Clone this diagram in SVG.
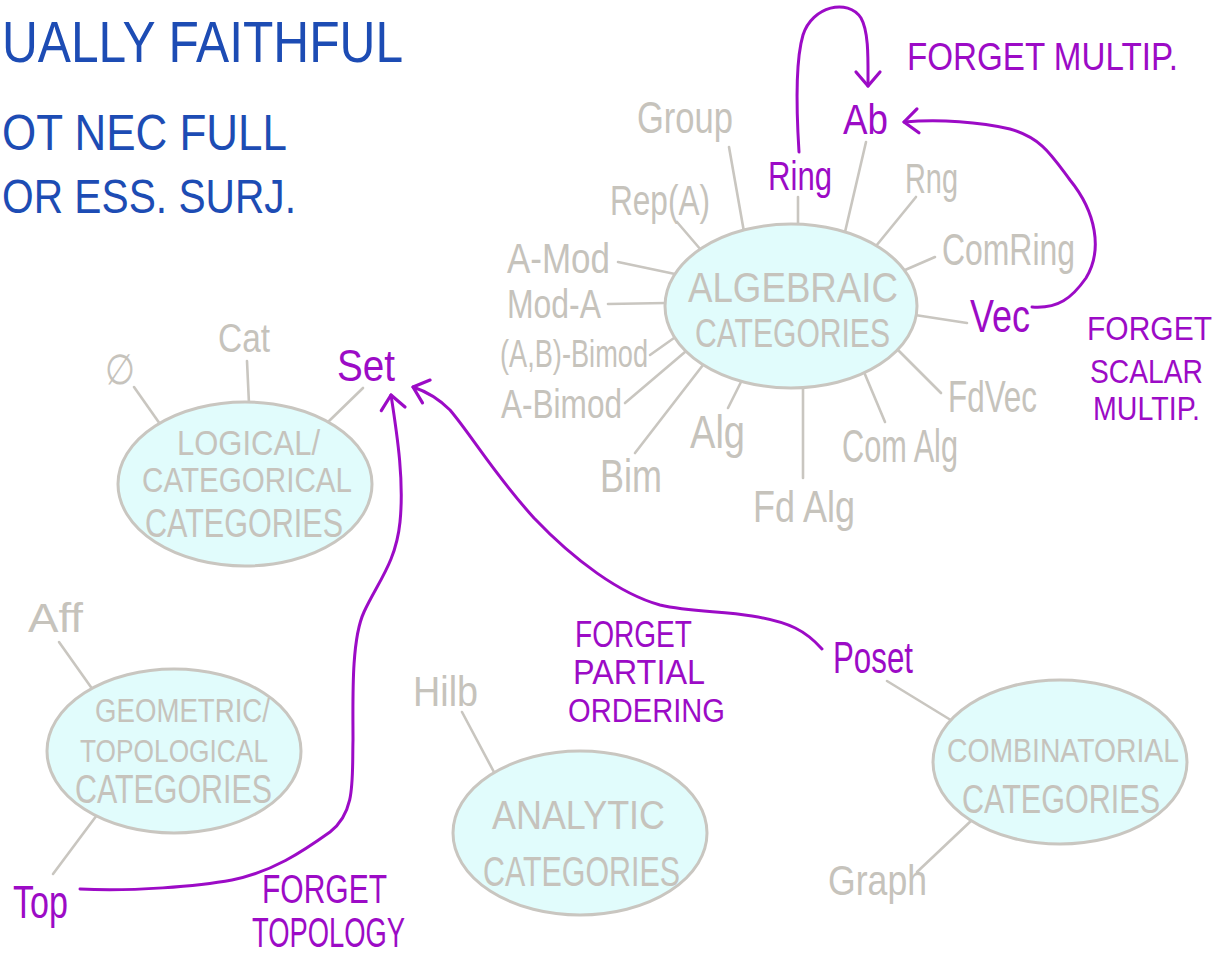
<svg xmlns="http://www.w3.org/2000/svg" width="1230" height="961" viewBox="0 0 1230 961">
  <style>
    text { font-family: "Liberation Sans Narrow", "Liberation Sans", "DejaVu Sans", sans-serif; }
    .note { fill: #1d4cb4; }
    .fun { fill: #9c0bc6; }
    .obj { fill: #c6c3bc; }
    .cat ellipse { fill: #e1fcfc; stroke: #c9c6c0; stroke-width: 3; }
    .cat text { fill: #c6c3bc; }
    .spoke { stroke: #c9c6c0; stroke-width: 2.6; stroke-linecap: round; fill: none; }
    .forget { stroke: #9c0bc6; stroke-width: 3; fill: none; stroke-linecap: round; marker-end: url(#chev); }
  </style>
  <defs>
    <marker id="chev" markerUnits="userSpaceOnUse" viewBox="0 0 40 40" markerWidth="40" markerHeight="40" refX="20" refY="20" orient="auto" overflow="visible">
      <path d="M6,8 L20,20 L6,32" fill="none" stroke="#9c0bc6" stroke-width="3.2" stroke-linecap="round" stroke-linejoin="round"/>
    </marker>
  </defs>

  <rect width="1230" height="961" fill="#ffffff"/>

  <!-- handwritten notes, top left -->
  <g id="notes" class="note">
    <text x="2" y="62" font-size="58" textLength="401" lengthAdjust="spacingAndGlyphs">UALLY FAITHFUL</text>
    <text x="2" y="150" font-size="50" textLength="285" lengthAdjust="spacingAndGlyphs">OT NEC FULL</text>
    <text x="2" y="213" font-size="48" textLength="294" lengthAdjust="spacingAndGlyphs">OR ESS. SURJ.</text>
  </g>

  <!-- spokes and forgetful functors -->
  <g id="connectors">
    <!-- algebraic -->
    <line class="spoke" x1="729" y1="147" x2="744" y2="232"/>
    <line class="spoke" x1="677" y1="222" x2="701" y2="250"/>
    <line class="spoke" x1="618" y1="262" x2="675" y2="274"/>
    <line class="spoke" x1="608" y1="304" x2="666" y2="303"/>
    <line class="spoke" x1="650" y1="355" x2="674" y2="338"/>
    <line class="spoke" x1="625" y1="403" x2="685" y2="352"/>
    <line class="spoke" x1="635" y1="453" x2="703" y2="365"/>
    <line class="spoke" x1="728" y1="408" x2="742" y2="380"/>
    <line class="spoke" x1="803" y1="478" x2="803" y2="385"/>
    <line class="spoke" x1="885" y1="422" x2="864" y2="372"/>
    <line class="spoke" x1="941" y1="393" x2="898" y2="350"/>
    <line class="spoke" x1="967" y1="323" x2="915" y2="315"/>
    <line class="spoke" x1="935" y1="257" x2="905" y2="270"/>
    <line class="spoke" x1="916" y1="197" x2="876" y2="246"/>
    <line class="spoke" x1="866" y1="142" x2="845" y2="232"/>
    <line class="spoke" x1="798" y1="197" x2="798" y2="228"/>
    <!-- logical / categorical -->
    <line class="spoke" x1="134" y1="387" x2="160" y2="424"/>
    <line class="spoke" x1="247" y1="361" x2="249" y2="404"/>
    <line class="spoke" x1="363" y1="388" x2="327" y2="423"/>
    <!-- geometric / topological -->
    <line class="spoke" x1="59" y1="642" x2="93" y2="690"/>
    <line class="spoke" x1="53" y1="874" x2="97" y2="815"/>
    <!-- analytic -->
    <line class="spoke" x1="462" y1="712" x2="495" y2="774"/>
    <!-- combinatorial -->
    <line class="spoke" x1="887" y1="681" x2="954" y2="722"/>
    <line class="spoke" x1="917" y1="872" x2="972" y2="820"/>

    <!-- forget multiplication: Ring to Ab -->
    <path class="forget" d="M799,152 C797,120 795,62 803,35 C812,6 848,-2 861,18 C869,32 868,60 868,86"/>
    <!-- forget scalar multiplication: Vec to Ab -->
    <path class="forget" d="M1032,307 C1058,309 1072,298 1086,278 C1103,250 1096,212 1070,180 C1052,156 1042,138 1010,129 C980,122 940,119 904,122"/>
    <!-- forget topology: Top to Set -->
    <path class="forget" d="M80,889 C130,892 200,886 232,880 C272,872 302,852 330,832 C356,812 352,780 353,740 C353,700 351,640 364,612 C378,582 396,562 400,522 C404,482 398,440 391,395"/>
    <!-- forget partial ordering: Poset to Set -->
    <path class="forget" d="M822,649 C806,631 790,622 752,616 C722,611 690,612 660,605 C620,594 574,560 534,518 C494,474 472,436 450,410 C440,400 428,392 413,387"/>
  </g>

  <!-- category clusters -->
  <g id="algebraic" class="cat">
    <ellipse cx="791" cy="306" rx="126" ry="82"/>
    <text x="688" y="302" font-size="42" textLength="210" lengthAdjust="spacingAndGlyphs">ALGEBRAIC</text>
    <text x="695" y="347" font-size="40" textLength="195" lengthAdjust="spacingAndGlyphs">CATEGORIES</text>
  </g>
  <g id="logical" class="cat">
    <ellipse cx="245" cy="484" rx="127" ry="82"/>
    <text x="177" y="455" font-size="35" textLength="143" lengthAdjust="spacingAndGlyphs">LOGICAL/</text>
    <text x="142" y="492" font-size="35" textLength="210" lengthAdjust="spacingAndGlyphs">CATEGORICAL</text>
    <text x="145" y="537" font-size="40" textLength="198" lengthAdjust="spacingAndGlyphs">CATEGORIES</text>
  </g>
  <g id="geometric" class="cat">
    <ellipse cx="174" cy="751" rx="127" ry="82"/>
    <text x="95" y="722" font-size="33" textLength="175" lengthAdjust="spacingAndGlyphs">GEOMETRIC/</text>
    <text x="80" y="762" font-size="32" textLength="188" lengthAdjust="spacingAndGlyphs">TOPOLOGICAL</text>
    <text x="75" y="803" font-size="40" textLength="197" lengthAdjust="spacingAndGlyphs">CATEGORIES</text>
  </g>
  <g id="analytic" class="cat">
    <ellipse cx="580" cy="833" rx="127" ry="82"/>
    <text x="492" y="829" font-size="40" textLength="173" lengthAdjust="spacingAndGlyphs">ANALYTIC</text>
    <text x="483" y="886" font-size="42" textLength="197" lengthAdjust="spacingAndGlyphs">CATEGORIES</text>
  </g>
  <g id="combinatorial" class="cat">
    <ellipse cx="1060" cy="762" rx="127" ry="82"/>
    <text x="947" y="762" font-size="34" textLength="232" lengthAdjust="spacingAndGlyphs">COMBINATORIAL</text>
    <text x="962" y="813" font-size="40" textLength="198" lengthAdjust="spacingAndGlyphs">CATEGORIES</text>
  </g>

  <!-- grey objects -->
  <g id="group" class="obj"><text x="637" y="133" font-size="44" textLength="96" lengthAdjust="spacingAndGlyphs">Group</text></g>
  <g id="rep-a" class="obj"><text x="610" y="215" font-size="42" textLength="100" lengthAdjust="spacingAndGlyphs">Rep(A)</text></g>
  <g id="a-mod" class="obj"><text x="507" y="273" font-size="42" textLength="103" lengthAdjust="spacingAndGlyphs">A-Mod</text></g>
  <g id="mod-a" class="obj"><text x="507" y="318" font-size="40" textLength="94" lengthAdjust="spacingAndGlyphs">Mod-A</text></g>
  <g id="ab-bimod" class="obj"><text x="500" y="367" font-size="38" textLength="148" lengthAdjust="spacingAndGlyphs">(A,B)-Bimod</text></g>
  <g id="a-bimod" class="obj"><text x="501" y="418" font-size="40" textLength="121" lengthAdjust="spacingAndGlyphs">A-Bimod</text></g>
  <g id="bim" class="obj"><text x="600" y="492" font-size="46" textLength="62" lengthAdjust="spacingAndGlyphs">Bim</text></g>
  <g id="alg" class="obj"><text x="690" y="448" font-size="46" textLength="55" lengthAdjust="spacingAndGlyphs">Alg</text></g>
  <g id="fd-alg" class="obj"><text x="753" y="522" font-size="44" textLength="102" lengthAdjust="spacingAndGlyphs">Fd Alg</text></g>
  <g id="com-alg" class="obj"><text x="842" y="462" font-size="46" textLength="116" lengthAdjust="spacingAndGlyphs">Com Alg</text></g>
  <g id="fdvec" class="obj"><text x="948" y="412" font-size="44" textLength="89" lengthAdjust="spacingAndGlyphs">FdVec</text></g>
  <g id="comring" class="obj"><text x="942" y="265" font-size="44" textLength="133" lengthAdjust="spacingAndGlyphs">ComRing</text></g>
  <g id="rng" class="obj"><text x="905" y="193" font-size="42" textLength="53" lengthAdjust="spacingAndGlyphs">Rng</text></g>
  <g id="cat" class="obj"><text x="218" y="352" font-size="40" textLength="52" lengthAdjust="spacingAndGlyphs">Cat</text></g>
  <g id="empty" class="obj"><text x="105" y="384" font-size="42" textLength="30" lengthAdjust="spacingAndGlyphs">∅</text></g>
  <g id="aff" class="obj"><text x="28" y="632" font-size="40" textLength="55" lengthAdjust="spacingAndGlyphs">Aff</text></g>
  <g id="hilb" class="obj"><text x="413" y="706" font-size="42" textLength="65" lengthAdjust="spacingAndGlyphs">Hilb</text></g>
  <g id="graph" class="obj"><text x="828" y="895" font-size="42" textLength="99" lengthAdjust="spacingAndGlyphs">Graph</text></g>

  <!-- purple objects -->
  <g id="ab" class="fun"><text x="843" y="134" font-size="42" textLength="45" lengthAdjust="spacingAndGlyphs">Ab</text></g>
  <g id="ring" class="fun"><text x="768" y="190" font-size="40" textLength="64" lengthAdjust="spacingAndGlyphs">Ring</text></g>
  <g id="vec" class="fun"><text x="970" y="332" font-size="46" textLength="60" lengthAdjust="spacingAndGlyphs">Vec</text></g>
  <g id="set" class="fun"><text x="337" y="381" font-size="44" textLength="58" lengthAdjust="spacingAndGlyphs">Set</text></g>
  <g id="poset" class="fun"><text x="833" y="673" font-size="44" textLength="80" lengthAdjust="spacingAndGlyphs">Poset</text></g>
  <g id="top" class="fun"><text x="13" y="918" font-size="46" textLength="55" lengthAdjust="spacingAndGlyphs">Top</text></g>

  <!-- functor labels -->
  <g id="label-multip" class="fun">
    <text x="907" y="70" font-size="38" textLength="271" lengthAdjust="spacingAndGlyphs">FORGET MULTIP.</text>
  </g>
  <g id="label-scalar" class="fun">
    <text x="1087" y="340" font-size="34" textLength="125" lengthAdjust="spacingAndGlyphs">FORGET</text>
    <text x="1090" y="383" font-size="34" textLength="113" lengthAdjust="spacingAndGlyphs">SCALAR</text>
    <text x="1093" y="420" font-size="33" textLength="107" lengthAdjust="spacingAndGlyphs">MULTIP.</text>
  </g>
  <g id="label-order" class="fun">
    <text x="575" y="647" font-size="36" textLength="117" lengthAdjust="spacingAndGlyphs">FORGET</text>
    <text x="573" y="684" font-size="35" textLength="132" lengthAdjust="spacingAndGlyphs">PARTIAL</text>
    <text x="568" y="722" font-size="34" textLength="157" lengthAdjust="spacingAndGlyphs">ORDERING</text>
  </g>
  <g id="label-topology" class="fun">
    <text x="262" y="903" font-size="40" textLength="125" lengthAdjust="spacingAndGlyphs">FORGET</text>
    <text x="252" y="947" font-size="42" textLength="153" lengthAdjust="spacingAndGlyphs">TOPOLOGY</text>
  </g>
</svg>
